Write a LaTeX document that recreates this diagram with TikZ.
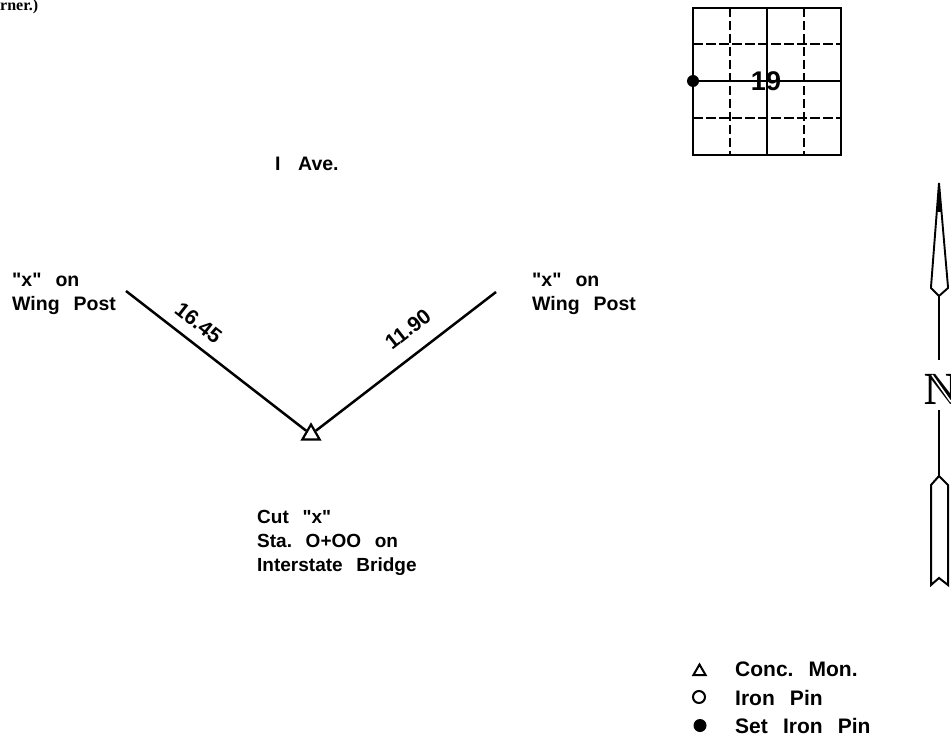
\documentclass[tikz,border=0pt]{standalone}
\usepackage{fontspec}
\setmainfont{Liberation Sans}[Ligatures=TeXOff]
\newfontfamily\serifnote{Liberation Serif}
\usetikzlibrary{shapes.geometric}
\newcommand{\gp}{\hspace{.72em}}
\tikzset{
  x=1pt,y=-1pt,
  cad/.style={font=\bfseries\fontsize{19.5}{24}\selectfont,inner sep=0pt,anchor=base west,align=left,text=black},
  legtext/.style={font=\bfseries\fontsize{21}{24}\selectfont,inner sep=0pt,anchor=base west,text=black},
  dim/.style={font=\bfseries\fontsize{21}{21}\selectfont,inner sep=0pt,anchor=center,text=black},
  gridsolid/.style={line width=1.9pt},
  griddash/.style={line width=1.5pt,dash pattern=on 9.5pt off 3.5pt},
  tri/.style={regular polygon,regular polygon sides=3,draw,line width=2.2pt,inner sep=0pt,fill=white},
}
\begin{document}
\begin{tikzpicture}
\useasboundingbox (0,0) rectangle (951,738);
\node[font=\serifnote\bfseries\fontsize{16}{16}\selectfont,inner sep=0pt,anchor=base west] (note) at (0,11) {rner.)};
% section grid
\coordinate (g) at (693,8);
\coordinate (gbr) at (841,155);
\foreach \v in {730,804} \draw[griddash] (\v,8) -- (\v,155);
\foreach \h in {44,118} \draw[griddash] (693,\h) -- (841,\h);
\draw[gridsolid] (g) rectangle (gbr);
\draw[gridsolid] (767,8) -- (767,155);
\draw[line width=1.4pt] (693,81) -- (841,81);
\fill (693,81) circle (6pt);
\node[font=\bfseries\fontsize{27}{27}\selectfont,inner sep=0pt] (sec) at (766,81) {19};
% road
\node[cad] (ave) at (275,171) {I\hspace{.9em}Ave.};
% survey
\coordinate (wl) at (126,291);
\coordinate (wr) at (496,292);
\node[tri,minimum size=20pt] (mon) at (311,434.5) {};
\draw[line width=2.5pt] (wl) -- (mon);
\draw[line width=2.5pt] (wr) -- (mon);
\node[dim,rotate=-38] (d1) at (198.5,323) {16.45};
\node[dim,rotate=38] (d2) at (408,329) {11.90};
\node[cad] (lbl) at (12,310) {"x"\gp on\\Wing\gp Post};
\node[cad] (lbr) at (532,310) {"x"\gp on\\Wing\gp Post};
\node[cad,font=\bfseries\fontsize{19}{24}\selectfont] (cut) at (257,571) {Cut\gp "x"\\Sta.\gp O+OO\gp on\\Interstate\gp Bridge};
% north arrow
\coordinate (t) at (939,183);
\fill (t) -- (941.5,212) -- (936.5,212) -- cycle;
\draw[line width=1.9pt,line join=miter] (t) -- (931,287) -- (931,288) -- (939,296) -- (948,288) -- (948,287) -- cycle;
\node[font=\serifnote\bfseries\fontsize{46}{46}\selectfont,inner sep=0pt,anchor=base west] (north) at (924,404) {N};
\draw[white,line width=1.6pt] (932,375) -- (951,402);
\draw[line width=1.3pt] (939,296) -- (939,360);
\draw[line width=1.3pt] (939,410) -- (939,476);
\draw[line width=2pt] (939,476) -- (931,485) -- (931,585) -- (939,578) -- (948,585) -- (948,485) -- cycle;
% legend
\node[regular polygon,regular polygon sides=3,draw,line width=2pt,inner sep=0pt,minimum size=14pt] (lt) at (699.5,671.5) {};
\node[circle,draw,line width=2pt,inner sep=0pt,minimum size=12pt] (lc) at (699,697) {};
\node[circle,fill,inner sep=0pt,minimum size=13pt] (ld) at (700,725.5) {};
\node[legtext] (l1) at (735,676) {Conc.\gp Mon.};
\node[legtext] (l2) at (735,705) {Iron\gp Pin};
\node[legtext] (l3) at (735,733) {Set\gp Iron\gp Pin};
\end{tikzpicture}
\end{document}
